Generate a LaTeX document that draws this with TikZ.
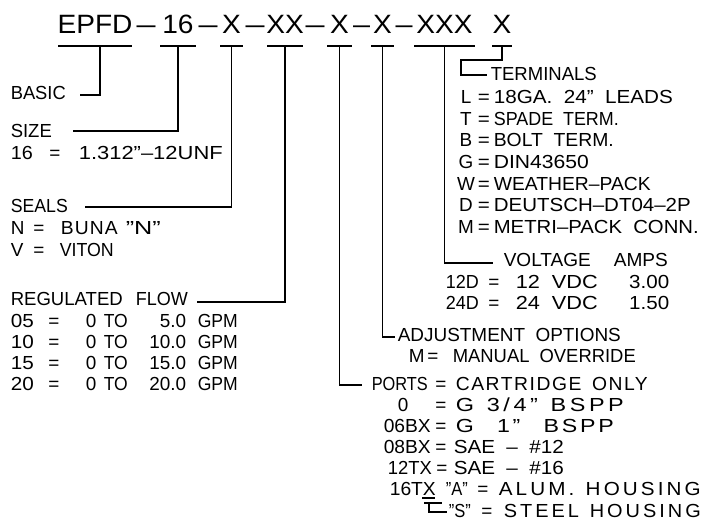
\documentclass[tikz,border=0pt]{standalone}
\usepackage{fontspec}
\setmainfont{Liberation Sans}
\usepackage{graphicx}
\newcommand\fitw[2]{\sbox0{#2}\pgfmathsetmacro\myfac{#1/\the\wd0}\scalebox{\myfac}[1]{\usebox0}}
\newcommand\fitls[3]{\sbox0{\addfontfeature{LetterSpace=#2}#3}\pgfmathsetmacro\myfac{#1/\the\wd0}\scalebox{\myfac}[1]{\usebox0}}
\newcommand\sk{\hspace{0.55em}}
\newcommand\lblsize{\fontsize{18.9}{22}\selectfont}
\newcommand\ttlsize{\fontsize{26.5}{30}\selectfont}
\begin{document}
\begin{tikzpicture}[x=1pt,y=-1pt,line width=1.6pt,
  lbl/.style={anchor=base west,inner sep=0pt,font=\lblsize},
  lblc/.style={anchor=base,inner sep=0pt,font=\lblsize},
  lble/.style={anchor=base east,inner sep=0pt,font=\lblsize},
  ttl/.style={anchor=base,inner sep=0pt,font=\ttlsize}]
\fill[white] (0,0) rectangle (701,525);
\useasboundingbox (0,0) rectangle (701,525);
% title
\node[ttl] (t1) at (95,33) {\scalebox{1.06}[1]{EPFD}};
\node[ttl] (d1) at (146,33) {\fitw{19}{–}};
\node[ttl] (t2) at (178,33) {\scalebox{1.06}[1]{16}};
\node[ttl] (d2) at (208,33) {\fitw{19}{–}};
\node[ttl] (t3) at (231.5,33) {\scalebox{1.06}[1]{X}};
\node[ttl] (d3) at (255,33) {\fitw{19}{–}};
\node[ttl] (t4) at (285,33) {\scalebox{1.06}[1]{XX}};
\node[ttl] (d4) at (315,33) {\fitw{19}{–}};
\node[ttl] (t5) at (339.5,33) {\scalebox{1.06}[1]{X}};
\node[ttl] (d5) at (361.5,33) {\fitw{17}{–}};
\node[ttl] (t6) at (382.5,33) {\scalebox{1.06}[1]{X}};
\node[ttl] (d6) at (404,33) {\fitw{17}{–}};
\node[ttl] (t7) at (444.5,33) {\scalebox{1.06}[1]{XXX}};
\node[ttl] (t8) at (502,33) {\scalebox{1.06}[1]{X}};
% underlines
\foreach \a/\b in {58/132,160/196,220/243,267/303,327/352,371/394,414/475,492/512}
  \draw (\a,46) -- (\b,46);
\coordinate (u1) at (100,46);
\coordinate (u2) at (178,46);
\coordinate (u3) at (231.5,46);
\coordinate (u4) at (285,46);
\coordinate (u5) at (339.5,46);
\coordinate (u6) at (382.5,46);
\coordinate (u7) at (444.5,46);
\coordinate (u8) at (502,46);
\coordinate (cBasic) at (80,95);
\coordinate (cSize) at (73,131);
\coordinate (cSeals) at (85,207);
\coordinate (cReg) at (197,302);
\coordinate (cPorts) at (362,385);
\coordinate (cAdj) at (395,337);
\coordinate (cVolt) at (493,263);
\coordinate (cTk) at (461,60);
\coordinate (cTerm) at (487,75);
\draw (u1) |- (cBasic);
\draw (u2) |- (cSize);
\draw (u3) |- (cSeals);
\draw (u4) |- (cReg);
\draw (u5) |- (cPorts);
\draw (u6) |- (cAdj);
\draw (u7) |- (cVolt);
\draw (u8) |- (cTk) |- (cTerm);
% left column
\node[lbl] (basic) at (10,99) {\fitw{55}{BASIC}};
\node[lbl] (size) at (10,137) {\fitw{41}{SIZE}};
\node[lbl] (s16) at (10,159) {\fitw{22}{16}};
\node[lblc] (s16e) at (55,159) {=};
\node[lbl] (s16v) at (78,159) {\fitw{144}{1.312"–12UNF}};
\node[lbl] (seals) at (10,212) {\fitw{57}{SEALS}};
\node[lbl] (sn) at (10,234) {N};
\node[lblc] (sne) at (39,234) {=};
\node[lbl] (snv) at (60,234) {\fitls{57}{6}{BUNA}};
\node[lbl] (snq) at (125,234) {\fitw{35}{"N"}};
\node[lbl] (sv) at (10,256) {V};
\node[lblc] (sve) at (39,256) {=};
\node[lbl] (svv) at (59,256) {\fitw{54}{VITON}};
\node[lbl] (reg) at (10,305) {\fitw{112}{REGULATED}};
\node[lbl] (regf) at (135,305) {\fitw{52}{FLOW}};
\foreach \k/\v/\y [count=\i] in {05/5.0/327,10/10.0/348,15/15.0/369,20/20.0/390}{
  \node[lbl] (fk\i) at (10,\y) {\fitw{23}{\k}};
  \node[lblc] (fe\i) at (54,\y) {=};
  \node[lbl] (fz\i) at (85,\y) {0};
  \node[lbl] (ft\i) at (103,\y) {\fitw{24}{TO}};
  \node[lble] (fv\i) at (187,\y) {\v};
  \node[lbl] (fg\i) at (197,\y) {\fitw{40}{GPM}};
}
% terminals
\node[lbl] (term) at (490,80) {\fitw{106}{TERMINALS}};
\foreach \k/\v/\w/\y [count=\i] in {L/{18GA.\sk 24"\sk LEADS}/179/103,T/{SPADE\sk TERM.}/125/125,B/{BOLT\sk TERM.}/120/146,G/{DIN43650}/95/168,W/{WEATHER–PACK}/157/190,D/{DEUTSCH–DT04–2P}/197/211,M/{METRI–PACK\sk CONN.}/205/233}{
  \node[lblc] (tk\i) at (466,\y) {\k};
  \node[lbl] (te\i) at (477,\y) {\fitw{12}{=}};
  \node[lbl] (tv\i) at (493,\y) {\fitw{\w}{\v}};
}
% voltage
\node[lbl] (volt) at (503,266) {\fitw{87}{VOLTAGE}};
\node[lbl] (amps) at (613,266) {\fitw{54}{AMPS}};
\node[lbl] (v12k) at (445,288) {\fitw{33}{12D}};
\node[lblc] (v12e) at (494,288) {=};
\node[lbl] (v12v) at (515,288) {\fitw{82}{12\sk VDC}};
\node[lble] (v12a) at (670,288) {\fitw{40}{3.00}};
\node[lbl] (v24k) at (445,309) {\fitw{33}{24D}};
\node[lblc] (v24e) at (494,309) {=};
\node[lbl] (v24v) at (515,309) {\fitw{82}{24\sk VDC}};
\node[lble] (v24a) at (670,309) {\fitw{40}{1.50}};
% adjustment
\node[lbl] (adj) at (397,341) {\fitw{223}{ADJUSTMENT\sk OPTIONS}};
\node[lbl] (adjk) at (408,362) {M};
\node[lblc] (adje) at (433,362) {=};
\node[lbl] (adjv) at (452,362) {\fitw{183}{MANUAL\sk OVERRIDE}};
% ports
\node[lbl] (ports) at (371,390) {\fitw{56}{PORTS}};
\node[lblc] (pe0) at (441,390) {=};
\node[lbl] (pv0) at (455,390) {\fitls{192}{8}{CARTRIDGE\sk ONLY}};
\node[lbl] (pk1) at (397,411) {0};
\node[lblc] (pe1) at (441,411) {=};
\node[lbl] (pv1) at (455,411) {\fitls{168}{15}{G\sk 3/4"\sk BSPP}};
\node[lbl] (pk2) at (383,432) {\fitw{47}{06BX}};
\node[lblc] (pe2) at (441,432) {=};
\node[lbl] (pv2) at (455,432) {\fitls{158}{12}{G\hspace{1em}1"\hspace{1em}BSPP}};
\node[lbl] (pk3) at (383,453) {\fitw{47}{08BX}};
\node[lblc] (pe3) at (441,453) {=};
\node[lbl] (pv3) at (453,453) {\fitw{110}{SAE\sk –\sk \#12}};
\node[lbl] (pk4) at (387,474) {\fitw{44}{12TX}};
\node[lblc] (pe4) at (442,474) {=};
\node[lbl] (pv4) at (453,474) {\fitw{110}{SAE\sk –\sk \#16}};
\node[lbl] (pk5) at (389,495) {\fitw{46}{16TX}};
\node[lbl] (pa5) at (445,495) {\fitw{22}{"A"}};
\node[lblc] (pe5) at (483,495) {=};
\node[lbl] (pv5) at (498,495) {\fitls{202}{15}{ALUM.\sk HOUSING}};
\node[lbl] (pa6) at (448,517) {\fitw{22}{"S"}};
\node[lblc] (pe6) at (487,517) {=};
\node[lbl] (pv6) at (503,517) {\fitls{197}{15}{STEEL\sk HOUSING}};
\coordinate (x1) at (422,498);
\coordinate (x2) at (435,498);
\coordinate (b1) at (424,503);
\coordinate (b2) at (442,503);
\coordinate (b3) at (429,503);
\coordinate (b4) at (447,512);
\draw (x1) -- (x2);
\draw (b1) -- (b2);
\draw (b3) |- (b4);
\end{tikzpicture}
\end{document}
